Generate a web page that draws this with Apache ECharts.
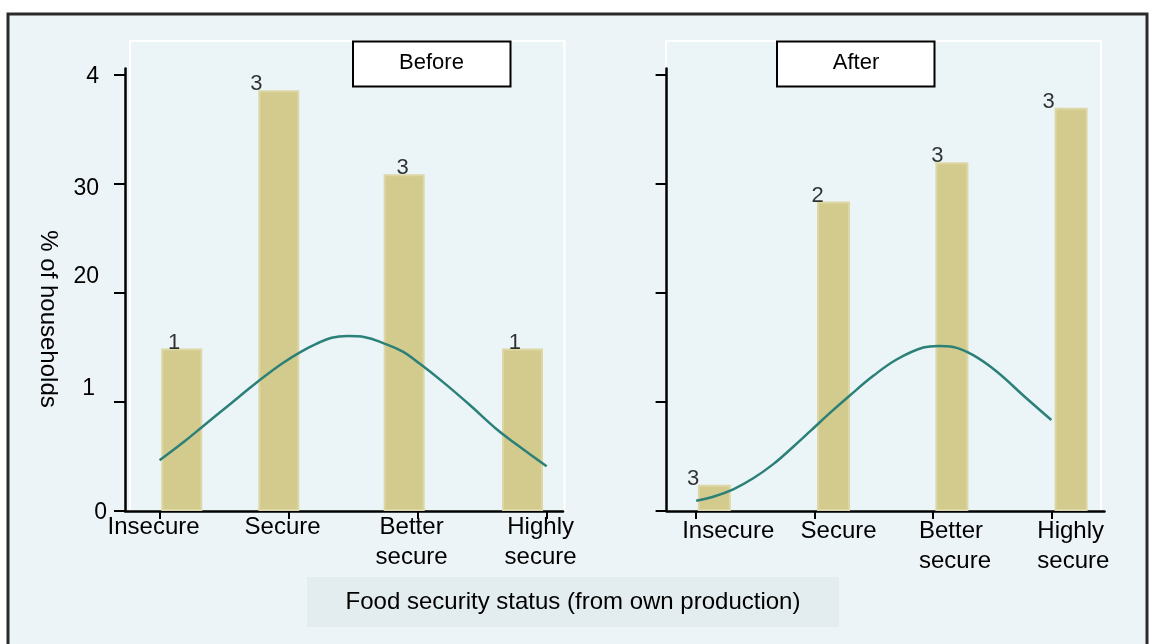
<!DOCTYPE html>
<html>
<head>
<meta charset="utf-8">
<script src="https://cdn.jsdelivr.net/npm/echarts@6/dist/echarts.min.js"></script>
<style>
  html, body { margin: 0; padding: 0; background: #fff; }
  #main { width: 1153px; height: 644px; }
</style>
</head>
<body>
<div id="main"></div>
<script>
// categories and tick labels (as printed in the figure)
var categories = ['Insecure', 'Secure', 'Better\nsecure', 'Highly\nsecure'];
var yTickValues = [0, 10, 20, 30, 40];
var yTickLabels = ['0', '1', '20', '30', '4'];

// Before panel
var beforeBarX = [1.172, 1.924, 2.896, 3.813];
var beforeBarY = [14.9, 38.6, 30.9, 14.9];
var beforeLabelX = [1.113, 1.751, 2.884, 3.754];
var beforeLabelText = ['1', '3', '3', '1'];
var beforeCurveX = [1.0, 1.184, 1.339, 1.546, 1.701, 1.83, 1.959, 2.088, 2.218, 2.334, 2.46, 2.592, 2.734, 2.889, 3.018, 3.2, 3.407, 3.613, 3.768, 4.0];
var beforeCurveY = [4.65, 6.3, 7.8, 9.8, 11.3, 12.5, 13.6, 14.55, 15.35, 15.9, 16.05, 15.95, 15.4, 14.6, 13.5, 11.8, 9.7, 7.5, 6.1, 4.1];

// After panel
var afterBarX = [1.153, 2.16, 3.16, 4.167];
var afterBarY = [2.4, 28.4, 32.0, 37.0];
var afterLabelX = [0.975, 2.025, 3.037, 3.978];
var afterLabelText = ['3', '2', '3', '3'];
var afterCurveX = [1.0, 1.144, 1.313, 1.482, 1.651, 1.82, 1.961, 2.13, 2.298, 2.496, 2.693, 2.918, 3.045, 3.171, 3.34, 3.538, 3.763, 4.0];
var afterCurveY = [0.95, 1.31, 1.99, 3.0, 4.3, 5.9, 7.3, 9.0, 10.6, 12.4, 13.9, 15.0, 15.15, 15.05, 14.3, 12.8, 10.6, 8.35];

var FONT = '"Liberation Sans", Arial, sans-serif';
var BG = '#EDF4F7';
var BAR = '#D3CA8E';
var BAR_EDGE = '#DDD7A6';
var CURVE = '#2B8078';

function zip(xs, ys) {
    var out = [];
    for (var i = 0; i < xs.length; i++) out.push([xs[i], ys[i]]);
    return out;
}

var chartDom = document.getElementById('main');
var myChart = echarts.init(chartDom, null, { renderer: 'canvas' });

// small per-label nudges for the left y labels (they sit unevenly in the original)
var yRich = {
    y0: { padding: [4, -8, 0, 0] },
    y1: { padding: [0, 4, 26, 0] },
    y2: { padding: [0, 0, 32, 0] },
    y3: { padding: [10, 0, 0, 0] },
    y4: { padding: [4, 0, 0, 0] }
};

function xAxisFor(gridIndex, min, max, right) {
    var label = {
        show: true,
        customValues: [1, 2, 3, 4],
        fontFamily: FONT,
        fontSize: 24,
        color: '#000',
        lineHeight: 30,
        margin: right ? 5 : 1,
        formatter: function (v) {
            var txt = categories[Math.round(v) - 1] || '';
            var key = right ? 'r' : 'l';
            return txt.split('\n').map(function (s) { return '{' + key + '|' + s + '}'; }).join('\n');
        },
        rich: right
            ? { r: { width: 28, align: 'left', fontSize: 24, lineHeight: 30, fontFamily: FONT } }
            : { l: { padding: [0, 12, 0, 0], fontSize: 24, lineHeight: 30, fontFamily: FONT } }
    };
    return {
        type: 'value',
        gridIndex: gridIndex,
        min: min,
        max: max,
        axisLine: { show: true, onZero: false, lineStyle: { color: '#000', width: 2.5 } },
        axisTick: { show: true, customValues: [1, 2, 3, 4], length: 8, lineStyle: { color: '#000', width: 2 } },
        axisLabel: label,
        splitLine: { show: false }
    };
}

function yAxisFor(gridIndex, showLabels) {
    return {
        type: 'value',
        gridIndex: gridIndex,
        min: 0,
        max: 40.6,
        axisLine: { show: true, onZero: false, lineStyle: { color: '#000', width: 2.5 } },
        axisTick: { show: true, customValues: yTickValues, length: 11, lineStyle: { color: '#000', width: 2 } },
        axisLabel: {
            show: showLabels,
            customValues: yTickValues,
            fontFamily: FONT,
            fontSize: 23,
            color: '#000',
            margin: 26,
            formatter: function (v) {
                var i = yTickValues.indexOf(Math.round(v));
                if (i < 0) return '';
                return '{y' + i + '|' + yTickLabels[i] + '}';
            },
            rich: yRich
        },
        splitLine: { show: false }
    };
}

function barSeries(idx, xs, ys, width) {
    return {
        type: 'bar',
        xAxisIndex: idx,
        yAxisIndex: idx,
        barWidth: width,
        itemStyle: { color: BAR, borderColor: BAR_EDGE, borderWidth: 2 },
        data: zip(xs, ys),
        z: 2,
        silent: true
    };
}

function curveSeries(idx, xs, ys) {
    return {
        type: 'line',
        xAxisIndex: idx,
        yAxisIndex: idx,
        symbol: 'none',
        smooth: 0.4,
        lineStyle: { color: CURVE, width: 2.5 },
        data: zip(xs, ys),
        z: 3,
        silent: true
    };
}

function labelSeries(idx, xs, ys, texts) {
    var data = [];
    for (var i = 0; i < xs.length; i++) {
        data.push({ value: [xs[i], ys[i]], text: texts[i] });
    }
    return {
        type: 'scatter',
        xAxisIndex: idx,
        yAxisIndex: idx,
        symbolSize: 1,
        itemStyle: { color: 'rgba(0,0,0,0)' },
        label: {
            show: true,
            position: 'inside',
            offset: [0, -6],
            fontFamily: FONT,
            fontSize: 22,
            color: '#000',
            formatter: function (p) { return p.data.text; }
        },
        data: data,
        z: 4,
        silent: true
    };
}

var option = {
    animation: false,
    backgroundColor: '#fff',
    grid: [
        { left: 125, right: 590, top: 68.5, bottom: 133, outerBoundsMode: 'none' },
        { left: 666.6, right: 48.5, top: 68.5, bottom: 133, outerBoundsMode: 'none' }
    ],
    xAxis: [
        xAxisFor(0, 0.732, 4.127, false),
        xAxisFor(1, 0.75, 4.449, true)
    ],
    yAxis: [
        yAxisFor(0, true),
        yAxisFor(1, false)
    ],
    graphic: [
        // outer frame
        { type: 'rect', z: -20, shape: { x: 8, y: 14, width: 1139, height: 680 },
          style: { fill: BG, stroke: '#2a2a2a', lineWidth: 3 } },
        // plot regions
        { type: 'rect', z: -10, shape: { x: 130, y: 41, width: 434.5, height: 470 },
          style: { fill: '#EBF4F7', stroke: '#ffffff', lineWidth: 2 } },
        { type: 'rect', z: -10, shape: { x: 666, y: 41, width: 435, height: 470 },
          style: { fill: '#EBF4F7', stroke: '#ffffff', lineWidth: 2 } },
        // panel titles
        { type: 'rect', z: 50, shape: { x: 353, y: 41.5, width: 157.5, height: 45 },
          style: { fill: '#fff', stroke: '#000', lineWidth: 2 } },
        { type: 'text', z: 51, x: 431.5, y: 63,
          style: { text: 'Before', fontFamily: FONT, fontSize: 22, fill: '#000', align: 'center', verticalAlign: 'middle' } },
        { type: 'rect', z: 50, shape: { x: 777, y: 41.5, width: 157.5, height: 45 },
          style: { fill: '#fff', stroke: '#000', lineWidth: 2 } },
        { type: 'text', z: 51, x: 856, y: 63,
          style: { text: 'After', fontFamily: FONT, fontSize: 22, fill: '#000', align: 'center', verticalAlign: 'middle' } },
        // x axis title
        { type: 'rect', z: -5, shape: { x: 307, y: 577, width: 532, height: 50 },
          style: { fill: '#E3ECEF' } },
        { type: 'text', z: 6, x: 573, y: 602,
          style: { text: 'Food security status (from own production)', fontFamily: FONT, fontSize: 24, fill: '#000', align: 'center', verticalAlign: 'middle' } },
        // y axis title
        { type: 'text', z: 6, x: 48, y: 319, rotation: -Math.PI / 2,
          style: { text: '% of households', fontFamily: FONT, fontSize: 24, fill: '#000', align: 'center', verticalAlign: 'middle' } }
    ],
    series: [
        barSeries(0, beforeBarX, beforeBarY, 41),
        curveSeries(0, beforeCurveX, beforeCurveY),
        labelSeries(0, beforeLabelX, beforeBarY, beforeLabelText),
        barSeries(1, afterBarX, afterBarY, 33),
        curveSeries(1, afterCurveX, afterCurveY),
        labelSeries(1, afterLabelX, afterBarY, afterLabelText)
    ]
};

myChart.setOption(option);
</script>
</body>
</html>
